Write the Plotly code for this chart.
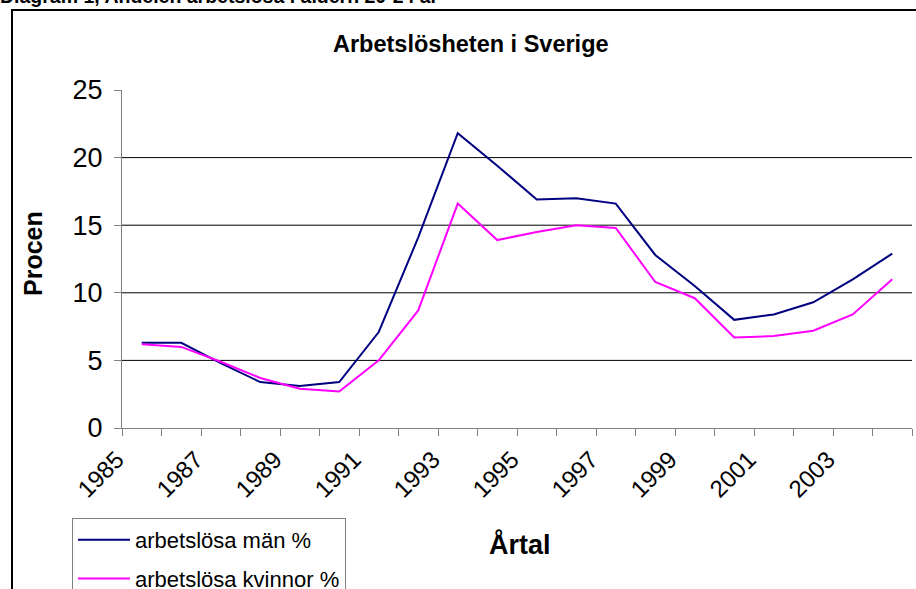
import plotly.graph_objects as go

years = list(range(1985, 2005))
man = [6.3, 6.3, 4.8, 3.4, 3.1, 3.4, 7.1, 14.1, 21.8, 19.4, 16.9, 17.0, 16.6, 12.8, 10.5, 8.0, 8.4, 9.3, 11.0, 12.9]
kvinnor = [6.2, 6.0, 4.9, 3.7, 2.9, 2.7, 5.0, 8.7, 16.6, 13.9, 14.5, 15.0, 14.8, 10.8, 9.6, 6.7, 6.8, 7.2, 8.4, 11.0]
y_ticks = [0, 5, 10, 15, 20, 25]
grid_vals = [5, 10, 15, 20]

W, H = 916, 589
L, R, T, B = 122, 4, 90, 161
pw, ph = W - L - R, H - T - B

def px(x):
    return (x - L) / pw

def py(y):
    return (H - B - y) / ph

FONT = "Arial, Liberation Sans, sans-serif"

# boundaries between years carry the tick marks; labels on every second boundary
tick_pos = [y - 0.5 for y in years] + [years[-1] + 0.5]
tick_txt = [str(y) if (y - years[0]) % 2 == 0 else "" for y in years] + [""]

fig = go.Figure()
fig.add_trace(go.Scatter(x=years, y=man, mode="lines", name="arbetslösa män %",
                         line=dict(color="#000080", width=2), legendgroup="a"))
fig.add_trace(go.Scatter(x=years, y=kvinnor, mode="lines", name="arbetslösa kvinnor %",
                         line=dict(color="#FF00FF", width=2), legendgroup="b"))

for g in grid_vals:
    fig.add_shape(type="line", xref="paper", x0=0, x1=1, yref="y", y0=g, y1=g,
                  line=dict(color="black", width=1), layer="below")

# outer chart frame
fig.add_shape(type="rect", xref="paper", yref="paper", x0=px(12), x1=px(940),
              y0=py(10), y1=py(640), line=dict(color="black", width=2))

fig.update_layout(
    width=W, height=H,
    margin=dict(l=L, r=R, t=T, b=B, autoexpand=False),
    paper_bgcolor="white", plot_bgcolor="white",
    font=dict(family=FONT, color="black"),
    showlegend=True,
    legend=dict(x=px(72), y=py(518), xanchor="left", yanchor="top",
                bordercolor="#808080", borderwidth=1, bgcolor="white",
                font=dict(size=22, family=FONT), itemwidth=52,
                traceorder="grouped", tracegroupgap=7),
    xaxis=dict(range=[years[0] - 0.5, years[-1] + 0.5], tickmode="array",
               tickvals=tick_pos, ticktext=tick_txt, tickangle=-45,
               ticks="outside", ticklen=7, tickcolor="#808080",
               showline=True, linecolor="#808080", linewidth=1,
               showgrid=False, zeroline=False, automargin=False,
               ticklabelshift=-5,
               tickfont=dict(size=24, family=FONT)),
    yaxis=dict(range=[0, 25], tickmode="array", tickvals=y_ticks,
               ticks="outside", ticklen=7, tickcolor="#808080",
               showline=True, linecolor="#808080", linewidth=1,
               showgrid=False, zeroline=False, automargin=False,
               ticklabelstandoff=6,
               tickfont=dict(size=27, family=FONT)),
)

fig.add_annotation(text="<b>Diagram 1, Andelen arbetslösa i åldern 20-24 år</b>",
                   xref="paper", yref="paper", x=px(-2), y=py(-4),
                   xanchor="left", yanchor="middle", showarrow=False,
                   font=dict(size=19.5, family=FONT))
fig.add_annotation(text="<b>Arbetslösheten i Sverige</b>",
                   xref="paper", yref="paper", x=px(471), y=py(44),
                   xanchor="center", yanchor="middle", showarrow=False,
                   font=dict(size=23.5, family=FONT))
fig.add_annotation(text="<b>Procen</b>", textangle=-90,
                   xref="paper", yref="paper", x=px(33), y=py(254),
                   xanchor="center", yanchor="middle", showarrow=False,
                   font=dict(size=25, family=FONT))
fig.add_annotation(text="<b>Årtal</b>",
                   xref="paper", yref="paper", x=px(520), y=py(544),
                   xanchor="center", yanchor="middle", showarrow=False,
                   font=dict(size=27, family=FONT))

fig.write_html("out.html", config={"displayModeBar": False},
               post_script="document.body.style.margin='0px';")
